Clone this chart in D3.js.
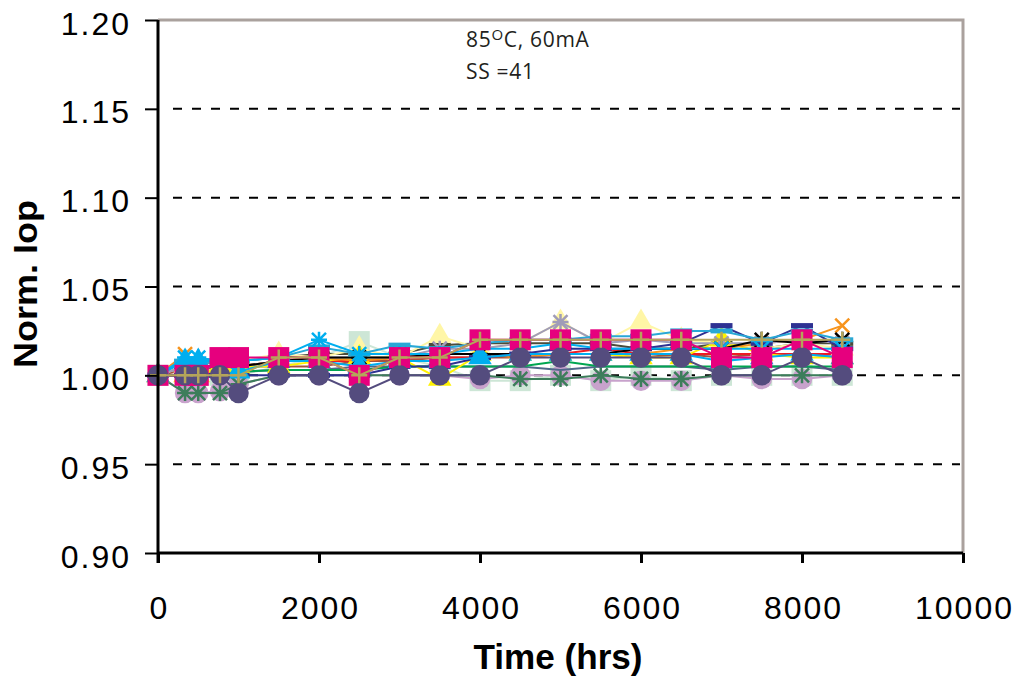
<!DOCTYPE html>
<html>
<head>
<meta charset="utf-8">
<script src="https://cdn.jsdelivr.net/npm/d3@7"></script>
<style>
  body { margin: 0; background: #fff; }
  svg { display: block; }
  .tick-label { font-family: "Liberation Sans", Arial, sans-serif; font-size: 32px; letter-spacing: 2px; fill: #000; }
  .axis-title { font-family: "Liberation Sans", Arial, sans-serif; font-weight: bold; fill: #000; }
  .note { font-family: "Open Sans", "Noto Sans", sans-serif; font-size: 21px; letter-spacing: 0.7px; fill: #231f20; }
</style>
</head>
<body>
<svg width="1017" height="682"></svg>
<script>
// test times (hrs)
var hours = [0, 336, 500, 770, 1000, 1500, 2000, 2500, 3000, 3500, 4000, 4500, 5000, 5500, 6000, 6500, 7000, 7500, 8000, 8500];

// axis ticks
var xTicks = [0, 2000, 4000, 6000, 8000, 10000];
var yTicks = [0.90, 0.95, 1.00, 1.05, 1.10, 1.15, 1.20];
var gridTicks = [0.95, 1.00, 1.05, 1.10, 1.15];

// normalized Iop per sample
var lightGreenSq = [1.000, 1.000, 1.000, 1.000, 1.000, 1.005, 1.010, 1.019, 1.010, 1.005, 0.997, 0.997, 1.000, 0.997, 1.000, 0.997, 1.000, 1.000, 1.000, 1.000];
var lavenderCirc = [1.000, 0.990, 0.990, 0.991, 0.995, 1.000, 1.000, 1.000, 1.000, 1.000, 0.998, 1.000, 1.000, 0.997, 0.997, 0.997, 1.000, 0.998, 0.998, 1.000];
var darkGreenAst = [1.000, 0.990, 0.990, 0.990, 0.995, 1.000, 1.000, 1.000, 1.000, 1.000, 1.000, 0.998, 0.998, 1.000, 0.998, 0.998, 1.000, 1.000, 1.000, 1.000];
var grayBlueLine = [1.000, 1.000, 1.000, 1.002, 1.002, 1.003, 1.003, 1.005, 1.005, 1.005, 1.005, 1.005, 1.003, 1.005, 1.005, 1.005, 1.003, 1.005, 1.005, 1.003];
var greenLine = [1.000, 1.000, 1.002, 1.002, 1.002, 1.003, 1.003, 1.003, 1.005, 1.005, 1.005, 1.005, 1.008, 1.005, 1.005, 1.005, 1.005, 1.005, 1.005, 1.005];
var brownLine = [1.000, 1.003, 1.003, 1.005, 1.005, 1.005, 1.005, 1.008, 1.008, 1.010, 1.010, 1.010, 1.012, 1.012, 1.010, 1.012, 1.010, 1.012, 1.012, 1.010];
var redLine = [1.000, 1.005, 1.005, 1.005, 1.005, 1.008, 1.008, 1.008, 1.010, 1.010, 1.010, 1.012, 1.012, 1.015, 1.012, 1.012, 1.012, 1.012, 1.012, 1.012];
var oliveLine = [1.000, 1.005, 1.008, 1.008, 1.008, 1.010, 1.012, 1.012, 1.012, 1.017, 1.018, 1.018, 1.018, 1.018, 1.015, 1.015, 1.018, 1.015, 1.018, 1.018];
var paleYellowTri = [1.000, 1.005, 1.005, 1.005, 1.008, 1.012, 1.010, 1.015, 1.010, 1.022, 1.015, 1.018, 1.030, 1.018, 1.030, 1.020, 1.018, 1.015, 1.018, 1.015];
var yellowTri = [1.000, 1.000, 1.000, 1.005, 1.005, 1.005, 1.008, 1.010, 1.010, 0.998, 1.012, 1.012, 1.012, 1.012, 1.010, 1.010, 1.020, 1.012, 1.010, 1.010];
var orangeX = [1.000, 1.012, 1.005, 1.005, 1.005, 1.008, 1.010, 1.008, 1.010, 1.012, 1.012, 1.010, 1.012, 1.012, 1.012, 1.015, 1.015, 1.018, 1.020, 1.028];
var grayAst = [1.000, 1.005, 1.005, 1.005, 1.005, 1.008, 1.010, 1.010, 1.010, 1.015, 1.015, 1.018, 1.030, 1.018, 1.020, 1.018, 1.018, 1.018, 1.020, 1.018];
var blackAst = [1.000, 1.000, 1.005, 1.005, 1.005, 1.008, 1.010, 1.010, 1.010, 1.012, 1.012, 1.012, 1.012, 1.012, 1.015, 1.015, 1.015, 1.020, 1.018, 1.020];
var navyDash = [1.000, 1.000, 1.000, 1.000, 1.000, 1.000, 1.000, 1.000, 1.005, 1.005, 1.010, 1.012, 1.015, 1.015, 1.015, 1.018, 1.028, 1.018, 1.028, 1.015];
var steelCyanDash = [1.000, 1.008, 1.008, 1.008, 1.008, 1.010, 1.016, 1.012, 1.017, 1.015, 1.018, 1.020, 1.020, 1.022, 1.022, 1.025, 1.025, 1.020, 1.025, 1.020];
var steelCyanAst = [1.000, 1.010, 1.010, 1.008, 1.008, 1.010, 1.020, 1.012, 1.012, 1.012, 1.015, 1.015, 1.018, 1.015, 1.015, 1.015, 1.015, 1.015, 1.015, 1.015];
var cyanTri = [1.000, 1.008, 1.008, 1.008, 1.002, 1.008, 1.008, 1.005, 1.008, 1.008, 1.010, 1.012, 1.012, 1.012, 1.012, 1.012, 1.008, 1.010, 1.012, 1.010];
var magentaSq = [1.000, 1.000, 1.000, 1.010, 1.010, 1.010, 1.010, 1.000, 1.010, 1.010, 1.020, 1.020, 1.020, 1.020, 1.020, 1.020, 1.010, 1.010, 1.020, 1.010];
var purpleCirc = [1.000, 1.000, 1.000, 1.000, 0.990, 1.000, 1.000, 0.990, 1.000, 1.000, 1.000, 1.010, 1.010, 1.010, 1.010, 1.010, 1.000, 1.000, 1.010, 1.000];
var khakiPlus = [1.000, 1.000, 1.000, 1.000, 1.000, 1.010, 1.010, 1.000, 1.010, 1.010, 1.020, 1.020, 1.020, 1.020, 1.020, 1.020, 1.020, 1.020, 1.020, 1.020];

// drawing order bottom -> top, with colour and marker
var series = [
  { values: lightGreenSq, color: "#cde6d6", marker: "square" },
  { values: lavenderCirc, color: "#c8a2cc", marker: "circle" },
  { values: darkGreenAst, color: "#3d7d5b", marker: "asterisk" },
  { values: grayBlueLine, color: "#50698a", marker: "none" },
  { values: greenLine, color: "#00a651", marker: "none" },
  { values: brownLine, color: "#a5523d", marker: "none" },
  { values: redLine, color: "#ed1c24", marker: "none" },
  { values: oliveLine, color: "#4b4b39", marker: "dash" },
  { values: paleYellowTri, color: "#fff6a6", marker: "triangle" },
  { values: yellowTri, color: "#fff200", marker: "triangle" },
  { values: orangeX, color: "#f7941d", marker: "x" },
  { values: grayAst, color: "#a09cb8", marker: "asterisk" },
  { values: blackAst, color: "#000000", marker: "asterisk" },
  { values: navyDash, color: "#2e3192", marker: "dash" },
  { values: steelCyanDash, color: "#29a8d6", marker: "dash" },
  { values: steelCyanAst, color: "#00aeef", marker: "asterisk" },
  { values: cyanTri, color: "#00aeef", marker: "triangle" },
  { values: magentaSq, color: "#e6007e", marker: "square" },
  { values: purpleCirc, color: "#544c7e", marker: "circle" },
  { values: khakiPlus, color: "#b4a55a", marker: "plus" }
];

var svg = d3.select("svg");
var plotL = 158, plotR = 963, plotT = 20, plotB = 553;

var x = d3.scaleLinear().domain([0, 10000]).range([plotL, plotR]);
var y = d3.scaleLinear().domain([0.90, 1.20]).range([plotB, plotT]);

svg.append("rect").attr("width", 1017).attr("height", 682).attr("fill", "#fff");

// dashed gridlines
svg.append("g").selectAll("line")
  .data(gridTicks)
  .enter().append("line")
    .attr("x1", plotL + 5).attr("x2", plotR - 3)
    .attr("y1", function(d) { return y(d); })
    .attr("y2", function(d) { return y(d); })
    .attr("stroke", "#000")
    .attr("stroke-width", 2)
    .attr("stroke-dasharray", "9,10")
    .attr("stroke-dashoffset", 9);

// plot frame, top and right in grey
svg.append("path")
  .attr("d", "M" + plotL + "," + plotT + "H" + plotR + "V" + plotB)
  .attr("fill", "none")
  .attr("stroke", "#aaa19d")
  .attr("stroke-width", 3);

// series
var line = d3.line()
  .x(function(d) { return x(d[0]); })
  .y(function(d) { return y(d[1]); });

function markerPath(type) {
  if (type === "circle") return d3.symbol().type(d3.symbolCircle).size(330)();
  if (type === "square") return d3.symbol().type(d3.symbolSquare).size(441)();
  if (type === "triangle") return d3.symbol().type(d3.symbolTriangle).size(240)();
  if (type === "plus") return "M-8,0H8M0,-8V8";
  if (type === "x") return "M-7,-7L7,7M-7,7L7,-7";
  if (type === "asterisk") return "M-7,-7L7,7M-7,7L7,-7M-8,0H8M0,-8V8";
  if (type === "dash") return "M-11,-2.5H11V2.5H-11Z";
  return null;
}

var filled = { circle: true, square: true, triangle: true, dash: true };

series.forEach(function(s) {
  var pts = hours.map(function(h, i) { return [h, s.values[i]]; });
  var g = svg.append("g");
  g.append("path")
    .attr("d", line(pts))
    .attr("fill", "none")
    .attr("stroke", s.color)
    .attr("stroke-width", 2);

  var p = markerPath(s.marker);
  if (!p) return;
  g.selectAll(".m")
    .data(pts)
    .enter().append("path")
      .attr("class", "m")
      .attr("transform", function(d) { return "translate(" + x(d[0]) + "," + y(d[1]) + ")"; })
      .attr("d", p)
      .attr("fill", filled[s.marker] ? s.color : "none")
      .attr("stroke", filled[s.marker] ? "none" : s.color)
      .attr("stroke-width", 2.5);
});

// axes
var xAxis = svg.append("g")
  .attr("transform", "translate(0," + plotB + ")")
  .call(d3.axisBottom(x).tickValues(xTicks).tickSize(10).tickSizeOuter(0).tickFormat(d3.format("d")));
xAxis.select(".domain").attr("stroke-width", 3).attr("d", "M" + plotL + ",0H" + plotR);
xAxis.selectAll(".tick line").attr("stroke-width", 3);
xAxis.selectAll(".tick text")
  .attr("class", "tick-label")
  .attr("dx", "1px")
  .attr("dy", 0)
  .attr("y", 66)
  .attr("font-size", null).attr("font-family", null);

var yAxis = svg.append("g")
  .attr("transform", "translate(" + plotL + ",0)")
  .call(d3.axisLeft(y).tickValues(yTicks).tickSize(13).tickSizeOuter(0).tickFormat(d3.format(".2f")));
yAxis.select(".domain").attr("stroke-width", 3).attr("d", "M0," + plotT + "V" + (plotB + 10));
yAxis.selectAll(".tick line").attr("stroke-width", 2);
yAxis.selectAll(".tick text")
  .attr("class", "tick-label")
  .attr("x", -27)
  .attr("dy", 0)
  .attr("y", 14)
  .attr("font-size", null).attr("font-family", null);
svg.selectAll(".domain").attr("stroke", "#000");

// axis titles
svg.append("text")
  .attr("class", "axis-title")
  .attr("transform", "translate(37,284) rotate(-90)")
  .attr("text-anchor", "middle")
  .attr("font-size", 34)
  .attr("textLength", 168)
  .attr("lengthAdjust", "spacingAndGlyphs")
  .text("Norm. Iop");

svg.append("text")
  .attr("class", "axis-title")
  .attr("x", 558).attr("y", 669)
  .attr("text-anchor", "middle")
  .attr("font-size", 35)
  .attr("textLength", 169)
  .attr("lengthAdjust", "spacingAndGlyphs")
  .text("Time (hrs)");

// test condition note
var note = svg.append("text").attr("class", "note").attr("x", 466).attr("y", 47);
note.append("tspan").text("85");
note.append("tspan").attr("font-size", 15).attr("dy", -7).text("O");
note.append("tspan").attr("dy", 7).text("C, 60mA");
svg.append("text").attr("class", "note").attr("x", 466).attr("y", 79).text("SS =41");
</script>
</body>
</html>
